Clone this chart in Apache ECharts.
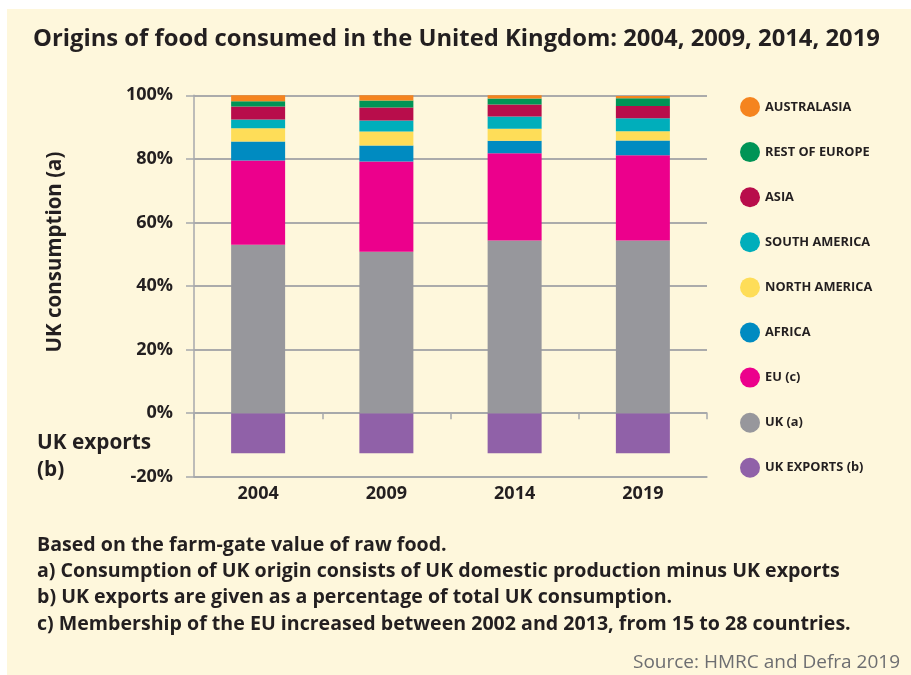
<!DOCTYPE html>
<html>
<head>
<meta charset="utf-8">
<script src="https://cdn.jsdelivr.net/npm/echarts@6/dist/echarts.min.js"></script>
<style>
html,body{margin:0;padding:0;background:#ffffff;}
#panel{position:absolute;left:7px;top:9px;width:904px;height:666px;background:#FEF7DC;}
#chart{position:absolute;left:0;top:0;width:911px;height:675px;}
</style>
</head>
<body>
<div id="panel"></div>
<div id="chart"></div>
<script>
const years = ['2004', '2009', '2014', '2019'];
const ukExports = [-12.6, -12.6, -12.6, -12.6];
const uk = [53.0, 50.8, 54.3, 54.3];
const eu = [26.5, 28.4, 27.5, 26.8];
const africa = [6.0, 5.0, 3.9, 4.7];
const northAmerica = [4.1, 4.4, 3.8, 2.9];
const southAmerica = [2.8, 3.5, 3.8, 4.1];
const asia = [4.1, 4.1, 3.8, 3.8];
const restOfEurope = [1.6, 2.2, 1.9, 2.5];
const australasia = [1.9, 1.6, 1.0, 0.7];
const yTicks = [-20, 0, 20, 40, 60, 80, 100];

const FONT = 'Open Sans';
const INK = '#231F20';
const seriesDefs = [
  ['UK EXPORTS (b)', ukExports, '#9061A8'],
  ['UK (a)', uk, '#97979C'],
  ['EU (c)', eu, '#EC008C'],
  ['AFRICA', africa, '#008BC1'],
  ['NORTH AMERICA', northAmerica, '#FEDD58'],
  ['SOUTH AMERICA', southAmerica, '#00AEBB'],
  ['ASIA', asia, '#B80D4B'],
  ['REST OF EUROPE', restOfEurope, '#009456'],
  ['AUSTRALASIA', australasia, '#F5841F']
];

const chart = echarts.init(document.getElementById('chart'), null, {renderer: 'canvas'});
const legendNames = seriesDefs.map(d => d[0]).reverse();

const option = {
  backgroundColor: 'transparent',
  animation: false,
  textStyle: {fontFamily: FONT},
  title: [
    {text: 'Origins of food consumed in the United Kingdom: 2004, 2009, 2014, 2019', left: 33, top: 26, padding: 0,
     textStyle: {fontFamily: FONT, fontWeight: 'bold', fontSize: 23.8, lineHeight: 26, color: INK}},
    {text: 'Based on the farm-gate value of raw food.\na) Consumption of UK origin consists of UK domestic production minus UK exports\nb) UK exports are given as a percentage of total UK consumption.\nc) Membership of the EU increased between 2002 and 2013, from 15 to 28 countries.',
     left: 37, top: 532, padding: 0,
     textStyle: {fontFamily: FONT, fontWeight: 'bold', fontSize: 19.6, lineHeight: 26.3, color: INK}},
    {text: 'Source: HMRC and Defra 2019', right: 11, top: 652, padding: 0,
     textStyle: {fontFamily: FONT, fontWeight: 'normal', fontSize: 19, lineHeight: 22, color: '#6D6E71'}},
    {text: 'UK exports\n(b)', left: 37, top: 429.5, padding: 0,
     textStyle: {fontFamily: FONT, fontWeight: 'bold', fontSize: 20.8, lineHeight: 27, color: INK}}
  ],
  graphic: [
    {type: 'text', x: 55, y: 252, rotation: Math.PI / 2,
     style: {text: 'UK consumption (a)', fontFamily: FONT, fontWeight: 'bold', fontSize: 20.5,
             fill: INK, align: 'center', verticalAlign: 'middle'}}
  ],
  legend: {
    orient: 'vertical', left: 740, top: 97, data: legendNames, padding: 0,
    icon: 'circle', itemWidth: 20, itemHeight: 20, itemGap: 25.1,
    textStyle: {fontFamily: FONT, fontWeight: 'bold', fontSize: 12.8, color: INK},
    selectedMode: false
  },
  grid: {left: 194, right: 204, top: 95.3, bottom: 198.3, containLabel: false},
  xAxis: [
    {type: 'category', data: years, position: 'bottom',
     axisLine: {onZero: false, lineStyle: {color: '#A7A9AC', width: 1.5}},
     axisTick: {show: false},
     axisLabel: {margin: 8, fontFamily: FONT, fontWeight: 'bold', fontSize: 18, color: INK}},
    {type: 'category', data: years, position: 'top',
     axisLine: {onZero: true, lineStyle: {color: '#A7A9AC', width: 1.5}},
     axisTick: {show: true, inside: true, length: 6, lineStyle: {color: '#A7A9AC', width: 1.5}},
     axisLabel: {show: false}}
  ],
  yAxis: {
    type: 'value', min: yTicks[0], max: yTicks[yTicks.length - 1], interval: 20,
    axisLine: {show: true, lineStyle: {color: '#A7A9AC', width: 1.5}},
    axisTick: {show: true, length: 8, lineStyle: {color: '#A7A9AC', width: 1.5}},
    splitLine: {show: true, lineStyle: {color: '#ABABAB', width: 2}},
    axisLabel: {margin: 21, formatter: v => v + '%', fontFamily: FONT, fontWeight: 'bold', fontSize: 18, color: INK}
  },
  series: seriesDefs.map(d => ({
    name: d[0], type: 'bar', stack: 'total', data: d[1], xAxisIndex: 0,
    barWidth: 54, itemStyle: {color: d[2]}, emphasis: {disabled: true}
  }))
};
chart.setOption(option);
</script>
</body>
</html>
